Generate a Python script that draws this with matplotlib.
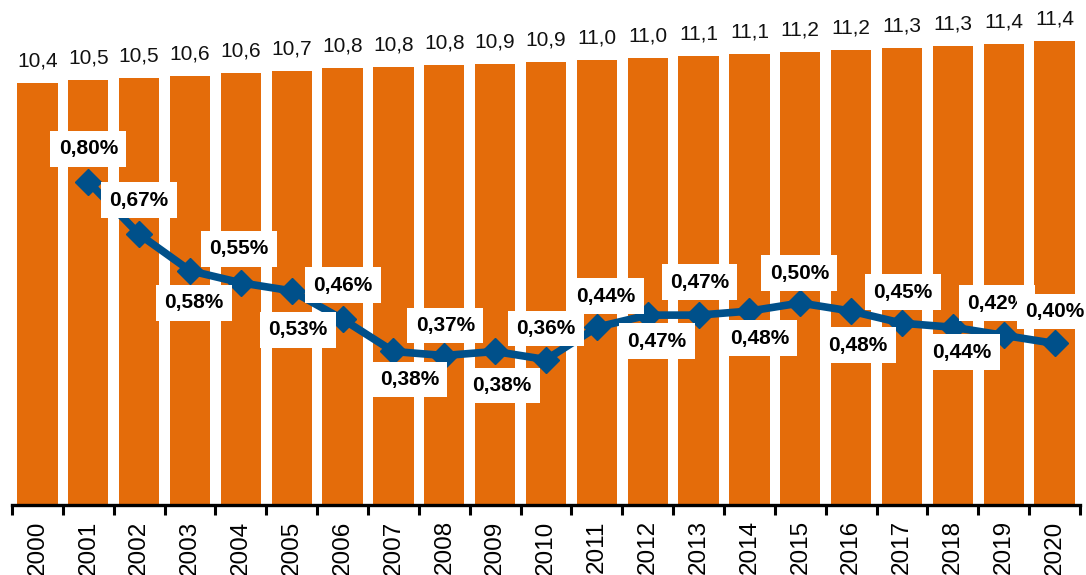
import matplotlib
matplotlib.use("Agg")
import matplotlib.pyplot as plt
import numpy as np

years = [str(y) for y in range(2000, 2021)]
bar_values = [10.40, 10.47, 10.53, 10.58, 10.63, 10.68, 10.76, 10.79, 10.83, 10.87, 10.92,
              10.96, 11.01, 11.06, 11.10, 11.16, 11.20, 11.26, 11.30, 11.36, 11.44]
line_years = years[1:]
line_values = [0.80, 0.67, 0.58, 0.55, 0.53, 0.46, 0.38, 0.37, 0.38, 0.36,
               0.44, 0.47, 0.47, 0.48, 0.50, 0.48, 0.45, 0.44, 0.42, 0.40]
# label placement offsets in pixels (dx, dy) relative to each point
label_offsets = [(0, 33), (0, 34), (4, -32), (-2, 34), (6, -39), (0, 34), (16, -28),
                 (1, 30), (7, -34), (0, 31), (9, 31), (9, -26), (1, 33), (10, -27),
                 (-1, 30), (7, -34), (1, 31), (9, -25), (-7, 32), (0, 32)]

plt.rcParams['font.family'] = ['Liberation Sans', 'DejaVu Sans']

BAR = '#E46C0A'
LINE = '#00508A'

fig = plt.figure(figsize=(10.86, 5.75), dpi=100)
ax = fig.add_axes([12 / 1086, 70 / 575, 1068 / 1086, 505 / 575])

x = np.arange(len(years))
ax.bar(x, bar_values, width=0.79, color=BAR, zorder=1)
ax.set_xlim(-0.5, len(years) - 0.5)
ax.set_ylim(0, 12.44)

for xi, v in zip(x, bar_values):
    ax.annotate(f"{v:.1f}".replace('.', ','), (xi, v), xytext=(0, 22),
                textcoords='offset pixels', ha='center', va='center',
                fontsize=15, color='#111111')

for s in ['top', 'left', 'right']:
    ax.spines[s].set_visible(False)
ax.spines['bottom'].set_linewidth(2.4)
ax.set_yticks([])
ax.set_xticks(np.arange(-0.5, len(years), 1.0))
ax.set_xticklabels([])
ax.tick_params(axis='x', which='major', length=7, width=2.2, direction='out')
ax.set_xticks(x, minor=True)
ax.set_xticklabels(years, minor=True, rotation=90, fontsize=17.5)
ax.tick_params(axis='x', which='minor', length=0, pad=11)

ax2 = ax.twinx()
ax2.set_ylim(0, 1.25)
ax2.set_yticks([])
for s in ['top', 'left', 'right', 'bottom']:
    ax2.spines[s].set_visible(False)
lx = [years.index(y) for y in line_years]
ax2.plot(lx, line_values, color=LINE, linewidth=5.5, marker='D', markersize=13.5,
         solid_joinstyle='round', zorder=2)

for xi, v, (dx, dy) in zip(lx, line_values, label_offsets):
    ax2.annotate(f"{v:.2f}".replace('.', ',') + '%', (xi, v), xytext=(dx, dy),
                 textcoords='offset pixels', ha='center', va='center',
                 fontsize=15, fontweight='bold', color='black', zorder=5,
                 bbox=dict(boxstyle='square,pad=0.4', fc='white', ec='none'))

fig.savefig('out.png', dpi=100)
